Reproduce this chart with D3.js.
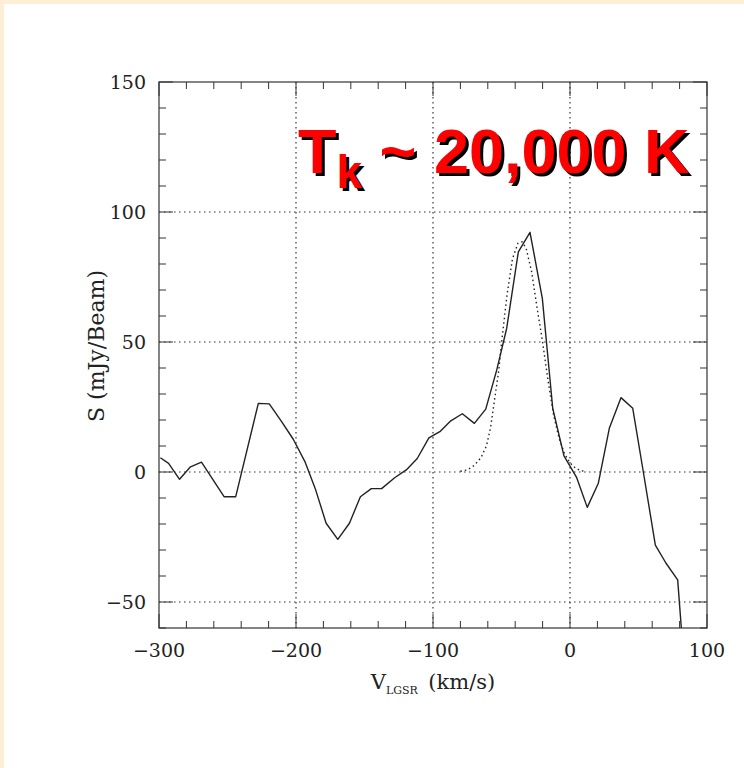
<!DOCTYPE html>
<html><head><meta charset="utf-8">
<script src="https://cdn.jsdelivr.net/npm/d3@7"></script>
<style>html,body{margin:0;padding:0;background:#fff;}svg{display:block;}</style>
</head><body>
<script>
// Observed spectrum (solid line): velocity (km/s) and flux (mJy/Beam)
const obsV = [-299,-293,-285,-277,-269,-252.5,-244,-227.5,-219.5,-210.5,-202,-193.5,-186,-178,-169.5,-161,-153,-145,-137.5,-128,-119.5,-111.5,-103,-95,-87,-78.6,-69.8,-61.5,-53.5,-46.2,-37.7,-29.2,-20.2,-12.6,-4.4,4.9,12.6,20.7,28.7,37.2,45.8,53.5,62.3,70.1,78.6,87];
const obsS = [5.5,3.3,-2.8,2,3.8,-9.5,-9.5,26.4,26.2,19.4,12.6,4,-6.3,-19.7,-25.9,-19.7,-9.5,-6.4,-6.4,-2.2,0.8,5.2,13.1,15.5,19.7,22.4,18.7,24.2,39.2,55.3,84.7,92.2,66.8,24.5,6.2,-2.2,-13.6,-4.3,16.8,28.6,24.5,0.1,-28.1,-35.1,-41.5,-100];
// Model fit (dotted line)
const fitV = [-80,-75,-70,-65,-61,-58,-55,-52,-50,-46,-42,-38,-35,-32,-28,-24,-20,-16,-12,-8,-4,0,4,8,12];
const fitS = [0.3,0.8,2.5,5.5,10,17,28,39,49.5,68,82,88,88.5,86,77,63,50,35,22,13,7,3.5,1.5,0.5,0.2];
// Axes
const xTicks = [-300,-200,-100,0,100];
const yTicks = [-50,0,50,100,150];
const xGrid = [-200,-100,0];
const yGrid = [-50,0,50,100];

const W = 744, H = 768;
const svg = d3.select("body").append("svg").attr("width", W).attr("height", H);
svg.append("rect").attr("width", W).attr("height", H).attr("fill", "#fcefd5");
svg.append("rect").attr("x", 4).attr("y", 4).attr("width", W - 4).attr("height", H - 4).attr("fill", "#ffffff");

const L = 159, R = 707, T = 82, B = 628;
const x = d3.scaleLinear().domain([-300, 100]).range([L, R]);
const y = d3.scaleLinear().domain([-60, 150]).range([B, T]);

const g = svg.append("g");
g.append("clipPath").attr("id", "clip").append("rect").attr("x", L).attr("y", T).attr("width", R - L).attr("height", B - T);

// grid
g.selectAll(".gx").data(xGrid).join("line").attr("x1", d => x(d)).attr("x2", d => x(d)).attr("y1", T).attr("y2", B)
  .attr("stroke", "#333").attr("stroke-width", 1.2).attr("stroke-dasharray", "1.5,3.5");
g.selectAll(".gy").data(yGrid).join("line").attr("x1", L).attr("x2", R).attr("y1", d => y(d)).attr("y2", d => y(d))
  .attr("stroke", "#333").attr("stroke-width", 1.2).attr("stroke-dasharray", "1.5,3.5");

// ticks
const xMinor = d3.range(-300, 101, 20), yMinor = d3.range(-60, 151, 10);
const tickG = g.append("g").attr("stroke", "#333").attr("stroke-width", 1);
xMinor.forEach(v => {
  const len = v % 100 === 0 ? 14 : 7;
  tickG.append("line").attr("x1", x(v)).attr("x2", x(v)).attr("y1", B).attr("y2", B - len);
  tickG.append("line").attr("x1", x(v)).attr("x2", x(v)).attr("y1", T).attr("y2", T + len);
});
yMinor.forEach(v => {
  const len = v % 50 === 0 ? 14 : 7;
  tickG.append("line").attr("x1", L).attr("x2", L + len).attr("y1", y(v)).attr("y2", y(v));
  tickG.append("line").attr("x1", R).attr("x2", R - len).attr("y1", y(v)).attr("y2", y(v));
});

// curves
const line = d3.line().x(d => x(d[0])).y(d => y(d[1]));
g.append("path").datum(fitV.map((v, i) => [v, fitS[i]])).attr("d", line).attr("clip-path", "url(#clip)")
  .attr("fill", "none").attr("stroke", "#222").attr("stroke-width", 1.4).attr("stroke-dasharray", "1.5,3");
g.append("path").datum(obsV.map((v, i) => [v, obsS[i]])).attr("d", line).attr("clip-path", "url(#clip)")
  .attr("fill", "none").attr("stroke", "#222").attr("stroke-width", 1.4).attr("stroke-linejoin", "round");

// frame
g.append("rect").attr("x", L).attr("y", T).attr("width", R - L).attr("height", B - T).attr("fill", "none").attr("stroke", "#333").attr("stroke-width", 1.2);

// tick labels
const font = "'DejaVu Serif', serif";
g.selectAll(".xl").data(xTicks).join("text").attr("x", d => x(d)).attr("y", 657).attr("text-anchor", "middle")
  .attr("font-family", font).attr("font-size", 19).attr("fill", "#222").text(d => d < 0 ? "\u2212" + Math.abs(d) : d);
g.selectAll(".yl").data(yTicks).join("text").attr("x", 146).attr("y", d => y(d) + 7).attr("text-anchor", "end")
  .attr("font-family", font).attr("font-size", 19).attr("fill", "#222").text(d => d < 0 ? "\u2212" + Math.abs(d) : d);

// axis titles
const xt = g.append("text").attr("x", (L + R) / 2).attr("y", 689).attr("text-anchor", "middle")
  .attr("font-family", font).attr("font-size", 21).attr("fill", "#222");
xt.append("tspan").text("V");
xt.append("tspan").attr("font-size", 11).attr("dy", 5).text("LGSR");
xt.append("tspan").attr("dy", -5).text("\u2002(km/s)");

g.append("text").attr("transform", `translate(104,346) rotate(-90)`).attr("text-anchor", "middle")
  .attr("font-family", font).attr("font-size", 22).attr("fill", "#222").text("S (mJy/Beam)");

// annotation
const af = "'Liberation Sans', Arial, sans-serif";
function ann(dx, dy, color) {
  const t = svg.append("text").attr("x", 298 + dx).attr("y", 173 + dy).attr("font-family", af)
    .attr("font-weight", "bold").attr("font-size", 63).attr("fill", color);
  t.append("tspan").text("T");
  t.append("tspan").attr("font-size", 46).attr("dy", 15).text("k");
  t.append("tspan").attr("dy", -15).text(" ~ 20,000 K");
}
ann(3, 3, "#000");
ann(0, 0, "#ff0000");
</script>
</body></html>
